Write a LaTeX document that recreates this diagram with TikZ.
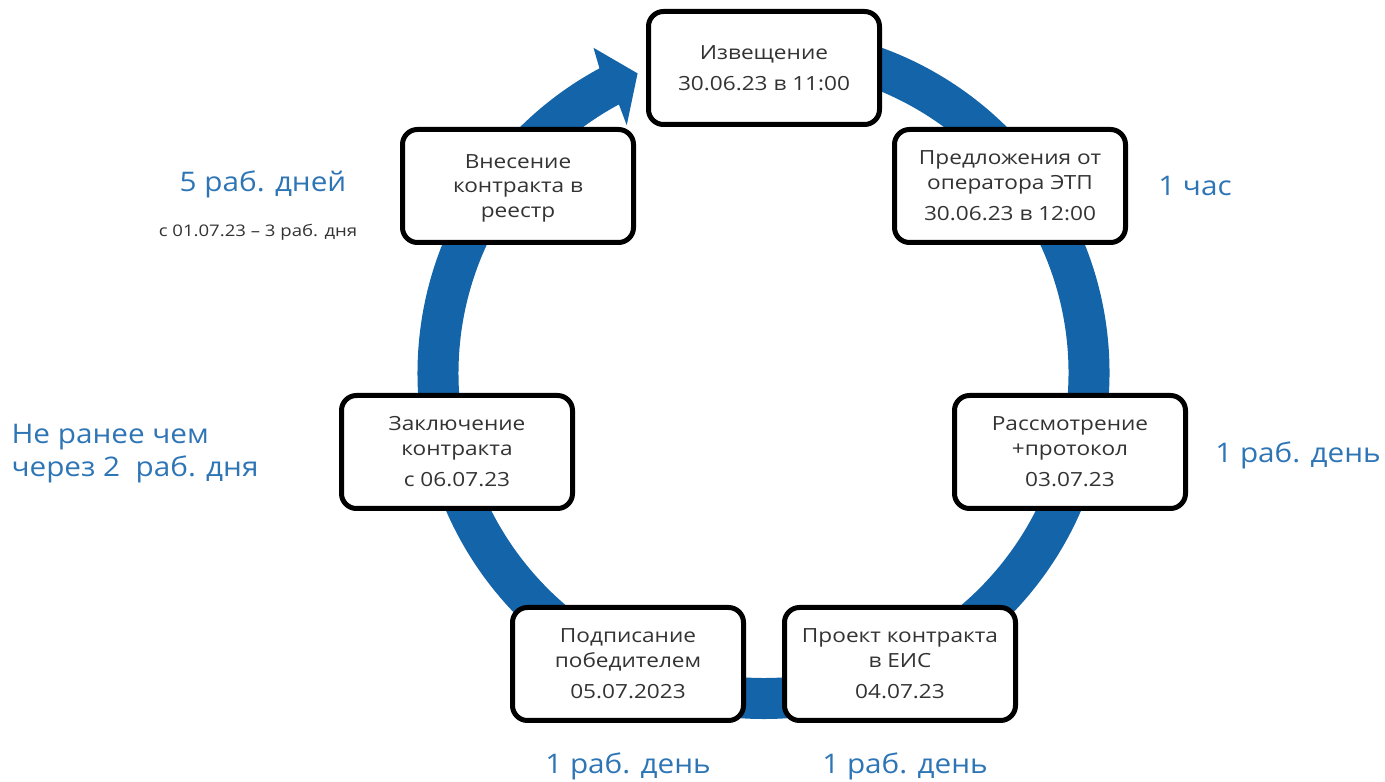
\documentclass[tikz,border=0pt]{standalone}
\usepackage{fontspec}
\setmainfont{Open Sans}[FakeStretch=1.1]
\newfontfamily\boxfont{Open Sans}[FakeStretch=1.16]
\usetikzlibrary{calc}
\definecolor{ringblue}{RGB}{19,100,168}
\definecolor{lblblue}{RGB}{46,117,182}
\tikzset{
  stepbox/.style={draw=black, line width=5pt, rounded corners=15pt, fill=white,
    minimum width=231pt, minimum height=113pt, align=center, text=black!80,
    font=\boxfont\fontsize{19.5}{24.5}\selectfont},
  daylbl/.style={text=lblblue, font=\fontsize{27}{33}\selectfont},
  ring/.style={draw=ringblue, line width=41pt},
}

\begin{document}
\begin{tikzpicture}[x=1pt,y=1pt]
\useasboundingbox (0,0) rectangle (1385,782);
\coordinate (C) at (763.5,409);
% ring and arrow head
\draw[ring] ($(C)+(85:325.5pt)$) arc[start angle=85, end angle=-242, radius=325.5pt];
\fill[ringblue] ($(C)+(118.3:346pt)$) -- ($(C)+(117.6:367pt)$) -- ($(C)+(112.8:325pt)$)
  -- ($(C)+(118.9:283pt)$) -- ($(C)+(118.3:305pt)$) -- cycle;
% steps
\node[stepbox] (izv) at (764,714) {Извещение\\[7pt]30.06.23 в 11:00};
\node[stepbox] (pred) at (1010,596) {Предложения от\\оператора ЭТП\\[7pt]30.06.23 в 12:00};
\node[stepbox] (rassm) at (1070,330) {Рассмотрение\\+протокол\\[7pt]03.07.23};
\node[stepbox] (proekt) at (900,118) {Проект контракта\\в ЕИС\\[7pt]04.07.23};
\node[stepbox] (podp) at (628,118) {Подписание\\победителем\\[7pt]05.07.2023};
\node[stepbox] (zakl) at (457,330) {Заключение\\контракта\\[7pt]с 06.07.23};
\node[stepbox, text depth=0pt] (vnes) at (518,596) {Внесение\\контракта в\\реестр};
% terms
\node[daylbl] (chas) at (1195,596) {1 час};
\node[daylbl] (den1) at (1298,327) {1 раб. день};
\node[daylbl] (den2) at (905,16) {1 раб. день};
\node[daylbl] (den3) at (628,16) {1 раб. день};
\node[daylbl, anchor=west, align=left] (neranee) at (8,328) {Не ранее чем\\через 2\ \ раб. дня};
\node[daylbl] (pyat) at (263,598) {5 раб. дней};
\node[text=black!80, font=\boxfont\fontsize{16}{19}\selectfont] (tri) at (258,550) {с 01.07.23 – 3 раб. дня};
\end{tikzpicture}
\end{document}
